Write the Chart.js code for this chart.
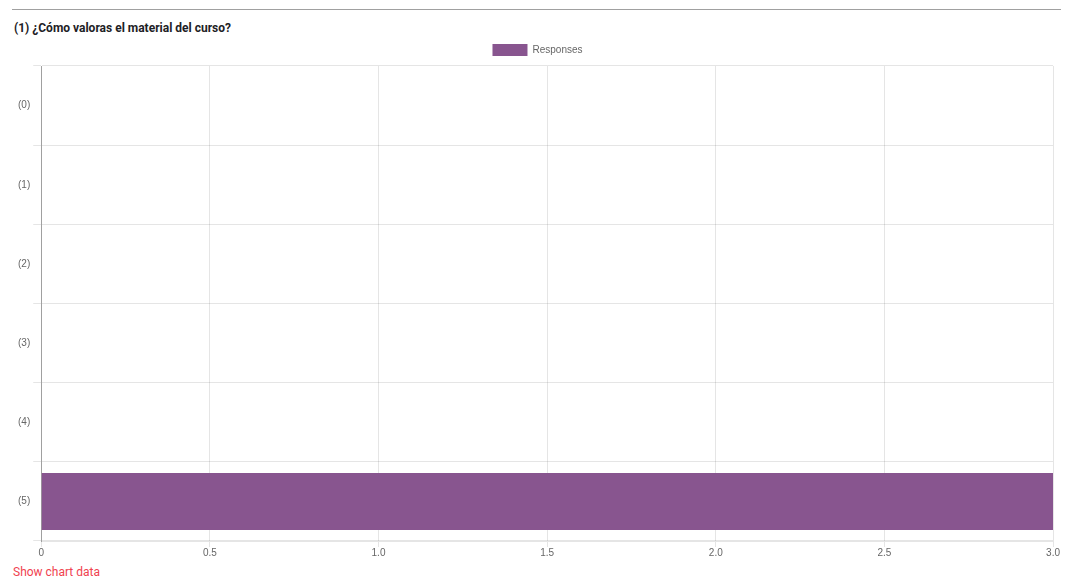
<!DOCTYPE html>
<html>
<head>
<meta charset="utf-8">
<script src="https://cdn.jsdelivr.net/npm/chart.js@4/dist/chart.umd.min.js"></script>
<style>
  body { margin: 0; background: #fff; font-family: Roboto, "Liberation Sans", sans-serif; }
  hr { position: absolute; left: 12px; top: 9px; width: 1049px; margin: 0; border: 0; border-top: 1px solid #a0a0a0; }
  h4 { position: absolute; left: 14px; top: 21px; margin: 0; font-size: 12px; font-weight: bold; color: #1d2125; }
  #wrap { position: absolute; left: 12px; top: 38px; width: 1048px; height: 521px; }
  a { position: absolute; left: 13px; top: 565px; font-size: 12px; color: #f0424f; text-decoration: none; }
</style>
</head>
<body>
<hr>
<h4>(1) ¿Cómo valoras el material del curso?</h4>
<div id="wrap"><canvas id="chart"></canvas></div>
<a href="#">Show chart data</a>
<script>
// question options and answer counts
var categories = ['(0)', '(1)', '(2)', '(3)', '(4)', '(5)'];
var responses = [0, 0, 0, 0, 0, 3];
var seriesName = 'Responses';

if (!window.chartPrison) {
    window.chartPrison = [];
}

Chart.defaults.font.family = '"Liberation Sans", Arial, sans-serif';
Chart.defaults.color = '#666';

var ctx = document.getElementById('chart').getContext('2d');
var chart = new Chart(ctx, {
    type: 'bar',
    data: {
        labels: categories,
        datasets: [{
            label: seriesName,
            data: responses,
            backgroundColor: '#88558f',
            borderWidth: 0
        }]
    },
    options: {
        indexAxis: 'y',
        responsive: true,
        maintainAspectRatio: false,
        animation: false,
        layout: { padding: { left: 3, right: 0, top: 2, bottom: 0 } },
        plugins: {
            legend: {
                labels: { boxWidth: 35, boxHeight: 12, padding: 4, font: { size: 10 } }
            },
            tooltip: { enabled: false }
        },
        scales: {
            x: {
                min: 0,
                max: 3,
                ticks: {
                    stepSize: 0.5,
                    padding: 0,
                    font: { size: 10 },
                    callback: function (v) { return v === 0 ? '0' : v.toFixed(1); }
                },
                grid: { color: 'rgba(0,0,0,0.1)', tickLength: 6 },
                border: { color: 'rgba(0,0,0,0.1)' }
            },
            y: {
                ticks: { font: { size: 10 } },
                grid: { color: 'rgba(0,0,0,0.1)' },
                border: { color: 'rgba(0,0,0,0.3)' }
            }
        }
    }
});
window.chartPrison.push(chart);
</script>
</body>
</html>
